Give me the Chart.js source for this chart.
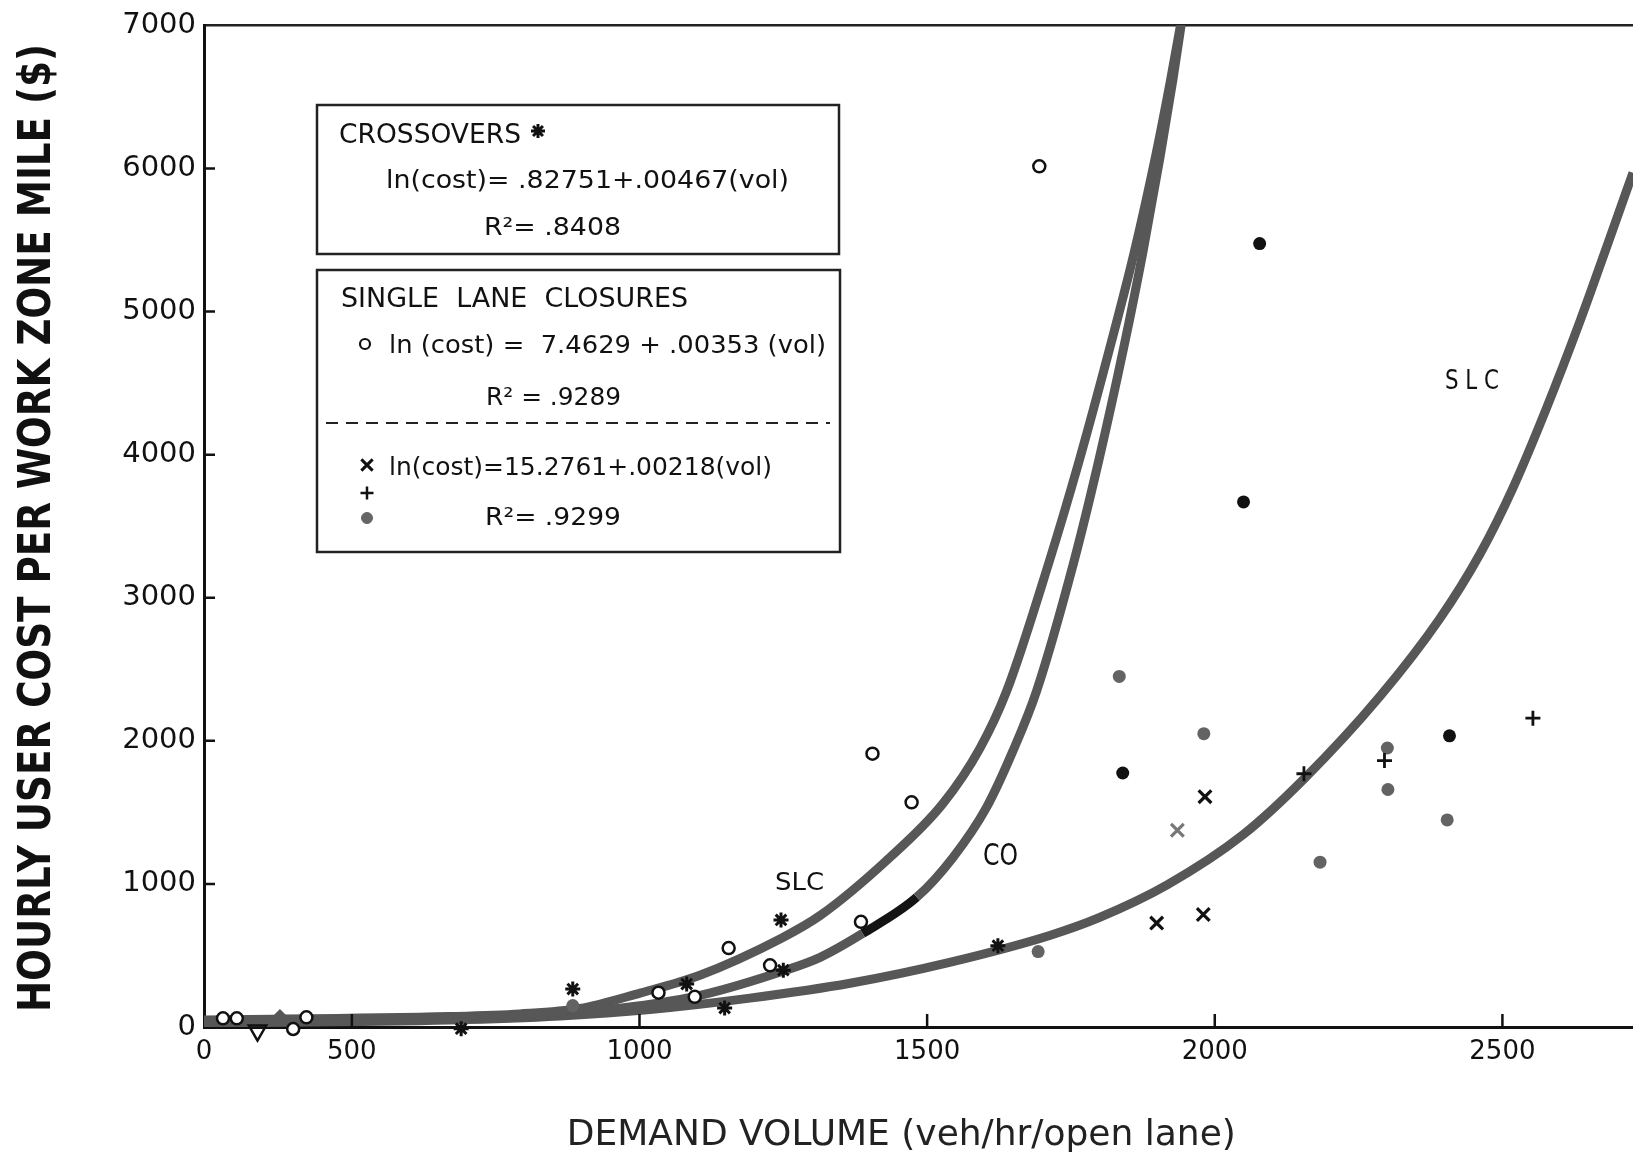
<!DOCTYPE html>
<html>
<head>
<meta charset="utf-8">
<script src="https://cdn.jsdelivr.net/npm/chart.js@4.4.1/dist/chart.umd.min.js"></script>
<style>
  html, body { margin: 0; padding: 0; background: #fff; overflow: hidden; }
  #wrap { width: 1633px; height: 1159px; }
  #costChart { display: block; }
</style>
</head>
<body>
<div id="wrap"><canvas id="costChart" width="1633" height="1159"></canvas></div>
<script>
// x axis starts a little above zero (the corner is just labelled "0")
var xMin = 243, xMax = 2727;
var xTickValues = [243, 500, 1000, 1500, 2000, 2500];
var yMin = 0, yMax = 7000, yStep = 1000;

// fitted curves (volume, cost)
var slcUpperVol  = [243, 670, 792, 896, 1001, 1105, 1246, 1314, 1429, 1527, 1592, 1638, 1712, 1764, 1818, 1860, 1897, 1923, 1941];
var slcUpperCost = [49, 73, 91, 129, 237, 362, 619, 779, 1162, 1559, 1949, 2345, 3250, 3953, 4753, 5414, 6082, 6614, 7015];

var coVol  = [243, 670, 862, 990, 1107, 1254, 1314, 1388, 1482, 1545, 1603, 1649, 1690, 1755, 1798, 1842, 1875, 1905, 1927, 1942];
var coCost = [35, 59, 91, 143, 223, 397, 487, 654, 907, 1185, 1533, 1928, 2345, 3250, 3953, 4753, 5414, 6082, 6614, 7015];

var slcLowerVol  = [243, 670, 862, 1018, 1192, 1366, 1539, 1713, 1800, 1918, 2049, 2155, 2287, 2391, 2461, 2518, 2577, 2635, 2692, 2727];
var slcLowerCost = [28, 49, 77, 122, 202, 306, 452, 640, 766, 995, 1343, 1733, 2310, 2853, 3306, 3765, 4329, 4934, 5574, 5971];

// observations
var openVol  = [1695, 1405, 1473, 1385, 1155, 1227, 1096, 1033, 276, 300, 421, 398];
var openCost = [6015, 1910, 1570, 735, 552, 431, 211, 240, 61, 61, 68, -14];

var starVol  = [884, 1246, 1250, 1082, 1148, 1623, 690];
var starCost = [265, 748, 397, 300, 132, 568, -12];

var crossVol  = [1983, 1899, 1980];
var crossCost = [1610, 726, 786];
var crossGrayVol  = [1935];
var crossGrayCost = [1375];

var plusVol  = [2553, 2295, 2155];
var plusCost = [2158, 1862, 1770];

var dotDarkVol  = [2078, 2050, 2408, 1840];
var dotDarkCost = [5475, 3670, 2035, 1775];
var dotGrayVol  = [1834, 1981, 2300, 2301, 2404, 2183, 1693, 884];
var dotGrayCost = [2450, 2050, 1950, 1660, 1447, 1152, 527, 150];

var oddVol  = [336];
var oddCost = [-25];
var diamondVol  = [375];
var diamondCost = [70];

function pts(xs, ys) {
  return xs.map(function (x, i) { return { x: x, y: ys[i] }; });
}

var curveGray = '#575757';
var ink = '#111';
var FONT = "'DejaVu Sans'";

function curve(label, xs, ys, extra) {
  var ds = {
    type: 'line',
    label: label,
    data: pts(xs, ys),
    borderColor: curveGray,
    borderWidth: 9,
    pointRadius: 0,
    fill: false,
    cubicInterpolationMode: 'monotone',
    order: 10
  };
  return Object.assign(ds, extra || {});
}

function marks(label, xs, ys, style, opts) {
  return Object.assign({
    label: label,
    data: pts(xs, ys),
    pointStyle: style,
    pointRadius: 6,
    borderColor: ink,
    backgroundColor: ink,
    borderWidth: 2.5,
    clip: false,
    order: 1
  }, opts || {});
}

// axis title, box texts and curve labels
var figureText = {
  id: 'figureText',
  afterDraw: function (chart) {
    var ctx = chart.ctx;

    function fit(text, x, y, w, size, color, weight, rot) {
      ctx.save();
      ctx.font = (weight || '') + ' ' + size + 'px ' + FONT;
      ctx.fillStyle = color || ink;
      ctx.textAlign = 'left';
      ctx.textBaseline = 'alphabetic';
      var nat = ctx.measureText(text).width;
      ctx.translate(x, y);
      if (rot) ctx.rotate(rot);
      ctx.scale(w / nat, 1);
      ctx.fillText(text, 0, 0);
      ctx.restore();
    }
    function mark(style, x, y, r, color, fillColor, lw) {
      ctx.save();
      ctx.strokeStyle = color;
      ctx.fillStyle = fillColor;
      ctx.lineWidth = lw;
      Chart.helpers.drawPoint(ctx, { pointStyle: style, radius: r, rotation: 0, borderWidth: lw }, x, y);
      ctx.restore();
    }

    // y axis title, running bottom to top
    fit('HOURLY USER COST PER WORK ZONE MILE ($)', 50, 1012, 968, 44, ink, 'bold', -Math.PI / 2);

    ctx.save();
    ctx.strokeStyle = '#222';
    ctx.lineWidth = 2.5;
    ctx.fillStyle = '#fff';
    ctx.fillRect(317, 105, 522, 149);
    ctx.strokeRect(317, 105, 522, 149);
    ctx.fillRect(317, 270, 523, 282);
    ctx.strokeRect(317, 270, 523, 282);
    ctx.setLineDash([12, 8]);
    ctx.lineWidth = 2;
    ctx.beginPath();
    ctx.moveTo(326, 423);
    ctx.lineTo(830, 423);
    ctx.stroke();
    ctx.restore();

    fit('CROSSOVERS', 339, 143, 182, 26);
    mark('star', 538, 131, 7, ink, ink, 3);
    fit('ln(cost)= .82751+.00467(vol)', 386, 188, 403, 25);
    fit('R\u00b2= .8408', 484, 235, 137, 25);

    fit('SINGLE  LANE  CLOSURES', 341, 307, 347, 26);
    mark('circle', 365, 344, 5, ink, '#fff', 2.2);
    fit('ln (cost) =  7.4629 + .00353 (vol)', 389, 353, 437, 25);
    fit('R\u00b2 = .9289', 486, 405, 135, 25);
    mark('crossRot', 367, 465, 8, ink, ink, 3);
    fit('ln(cost)=15.2761+.00218(vol)', 389, 475, 383, 25);
    mark('cross', 367, 493, 6.5, ink, ink, 2.5);
    mark('circle', 367, 518, 5.5, '#666', '#666', 1);
    fit('R\u00b2= .9299', 485, 525, 136, 25);

    fit('SLC', 775, 890, 49, 25);
    fit('CO', 983, 865, 35, 30);
    fit('S L C', 1445, 389, 54, 26);
  }
};

// short tick marks pointing into the plot
var innerTicks = {
  id: 'innerTicks',
  afterDatasetsDraw: function (chart) {
    var ctx = chart.ctx, area = chart.chartArea;
    var xs = chart.scales.x, ys = chart.scales.y;
    ctx.save();
    ctx.strokeStyle = ink;
    ctx.lineWidth = 2.5;
    ctx.beginPath();
    xs.ticks.forEach(function (t) {
      if (t.value === xMin) return;
      var px = xs.getPixelForValue(t.value);
      ctx.moveTo(px, area.bottom);
      ctx.lineTo(px, area.bottom - 13);
    });
    ys.ticks.forEach(function (t) {
      if (t.value === yMin || t.value === yMax) return;
      var py = ys.getPixelForValue(t.value);
      ctx.moveTo(area.left, py);
      ctx.lineTo(area.left + 11, py);
    });
    ctx.stroke();
    ctx.restore();
  }
};

var cv = document.getElementById('costChart');
new Chart(cv, {
  type: 'scatter',
  data: {
    datasets: [
      marks('SLC o', openVol, openCost, 'circle', { pointRadius: 6, backgroundColor: '#fff', borderWidth: 2.5 }),
      marks('CO *', starVol, starCost, 'star', { pointRadius: 7.5, borderWidth: 3 }),
      marks('SLC x', crossVol, crossCost, 'crossRot', { pointRadius: 9, borderWidth: 3.2 }),
      marks('SLC x (light)', crossGrayVol, crossGrayCost, 'crossRot', { pointRadius: 9, borderWidth: 3.2, borderColor: '#777' }),
      marks('SLC +', plusVol, plusCost, 'cross', { pointRadius: 7.5, borderWidth: 2.8 }),
      marks('SLC dot', dotDarkVol, dotDarkCost, 'circle', { pointRadius: 6.5, borderWidth: 0 }),
      marks('SLC dot (light)', dotGrayVol, dotGrayCost, 'circle', { pointRadius: 6.5, borderWidth: 0, backgroundColor: '#636363' }),
      marks('mark v', oddVol, oddCost, 'triangle', { pointRadius: 10, rotation: 180, backgroundColor: 'rgba(0,0,0,0)', borderWidth: 2.5 }),
      marks('mark diamond', diamondVol, diamondCost, 'rectRot', { pointRadius: 8, borderWidth: 0, backgroundColor: curveGray }),
      curve('SLC (upper)', slcUpperVol, slcUpperCost),
      curve('CO', coVol, coCost, {
        segment: { borderColor: function (c) { return c.p0DataIndex === 7 ? '#141414' : undefined; } }
      }),
      curve('SLC (lower)', slcLowerVol, slcLowerCost)
    ]
  },
  options: {
    responsive: false,
    animation: false,
    events: [],
    layout: { autoPadding: false, padding: { top: 19, right: 0, bottom: 0, left: 0 } },
    plugins: { legend: { display: false }, tooltip: { enabled: false } },
    scales: {
      x: {
        type: 'linear',
        position: 'bottom',
        min: xMin,
        max: xMax,
        afterBuildTicks: function (s) { s.ticks = xTickValues.map(function (v) { return { value: v }; }); },
        afterFit: function (s) { s.height = 132; },
        grid: { display: false, drawTicks: false },
        border: { display: true, color: ink, width: 3 },
        ticks: {
          padding: 10,
          color: ink,
          font: { family: FONT, size: 26 },
          maxRotation: 0,
          autoSkip: false,
          callback: function (v) { return v === xMin ? '0' : String(v); }
        },
        title: {
          display: true,
          text: 'DEMAND VOLUME (veh/hr/open lane)\u00a0\u00a0\u00a0',
          color: '#222',
          font: { family: FONT, size: 36 },
          padding: { top: 0, bottom: 2 }
        }
      },
      xTop: {
        type: 'linear',
        position: 'top',
        min: xMin,
        max: xMax,
        afterFit: function (s) { s.height = 0; },
        grid: { display: false, drawTicks: false },
        border: { display: true, color: '#222', width: 2.5 },
        ticks: { display: false }
      },
      y: {
        type: 'linear',
        min: yMin,
        max: yMax,
        afterFit: function (s) { s.width = 204; },
        grid: { display: false, drawTicks: false },
        border: { display: true, color: ink, width: 3 },
        ticks: {
          stepSize: yStep,
          padding: 8,
          color: ink,
          font: { family: FONT, size: 29 },
          callback: function (v) { return String(v); }
        }
      }
    }
  },
  plugins: [innerTicks, figureText]
});
</script>
</body>
</html>
